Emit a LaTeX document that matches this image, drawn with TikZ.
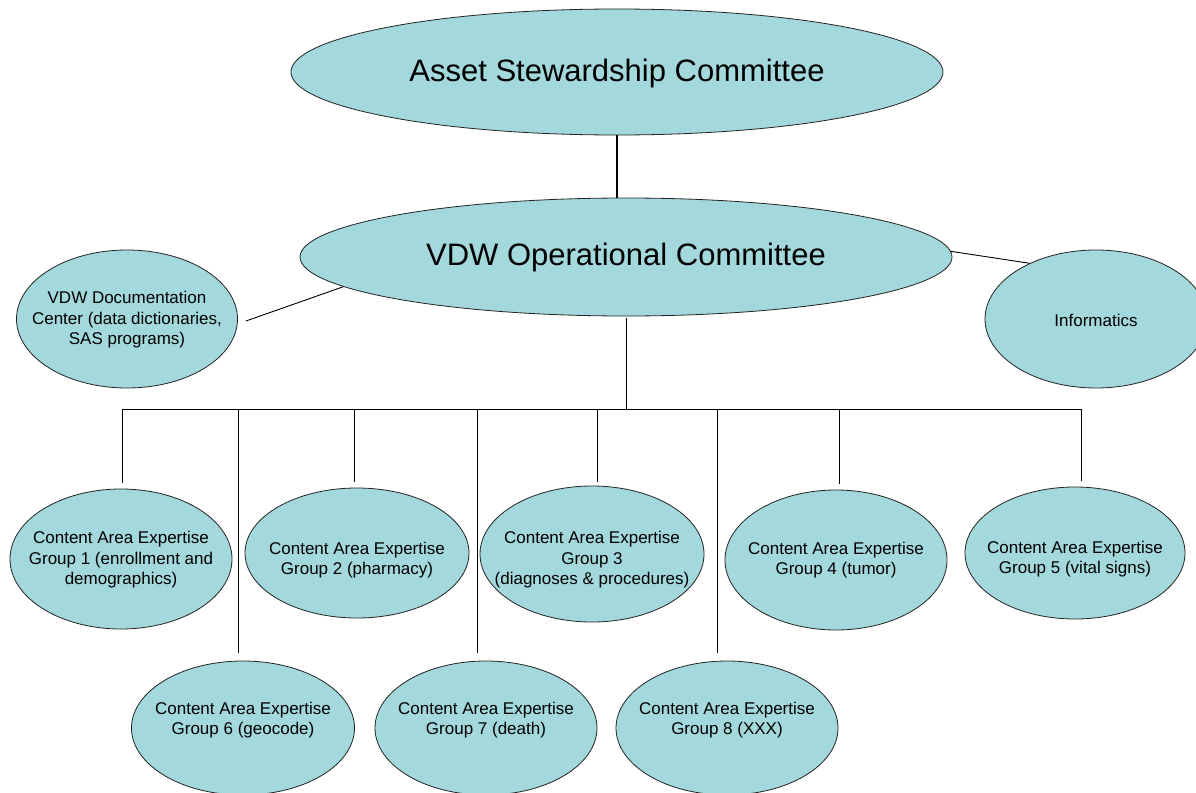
\documentclass[tikz,border=0pt]{standalone}
\usepackage{fontspec}
\setmainfont{Liberation Sans}
\usetikzlibrary{shapes.geometric}
\definecolor{ovalfill}{RGB}{163,216,220}
\definecolor{ovaledge}{RGB}{35,35,35}
\begin{document}
\begin{tikzpicture}[x=1pt,y=-1pt,
  oval/.style={ellipse, draw=ovaledge, line width=0.8pt, fill=ovalfill, inner sep=0pt},
  smalltxt/.style={align=center, inner sep=0pt, font=\fontsize{17}{20.5}\selectfont},
  bigtxt/.style={align=center, inner sep=0pt, font=\fontsize{31}{36}\selectfont},
  link/.style={draw=black, line width=0.9pt},
  mainlink/.style={draw=black, line width=2.8pt}]
\useasboundingbox (0,0) rectangle (1196,792);
% ovals
\node[oval, minimum width=652, minimum height=126] (asc) at (617,72) {};
\node[bigtxt] (asct) at (617,73) {Asset Stewardship Committee};
\node[oval, minimum width=652, minimum height=118] (voc) at (626,257) {};
\node[bigtxt] (voct) at (626,257) {VDW Operational Committee};
\node[oval, minimum width=221, minimum height=138] (doc) at (127,319) {};
\node[smalltxt] (doct) at (127,320) {VDW Documentation\\Center (data dictionaries,\\SAS programs)};
\node[oval, minimum width=222, minimum height=138] (inf) at (1096,319) {};
\node[smalltxt] (inft) at (1096,320) {Informatics};
\node[oval, minimum width=222, minimum height=140] (g1) at (121,559) {};
\node[smalltxt] (g1t) at (121,560) {Content Area Expertise\\Group 1 (enrollment and\\demographics)};
\node[oval, minimum width=224, minimum height=130] (g2) at (357,553) {};
\node[smalltxt] (g2t) at (357,560) {Content Area Expertise\\Group 2 (pharmacy)};
\node[oval, minimum width=224, minimum height=136] (g3) at (592,554) {};
\node[smalltxt] (g3t) at (592,560) {Content Area Expertise\\Group 3\\(diagnoses \& procedures)};
\node[oval, minimum width=222, minimum height=140] (g4) at (836,560) {};
\node[smalltxt] (g4t) at (836,560) {Content Area Expertise\\Group 4 (tumor)};
\node[oval, minimum width=220, minimum height=132] (g5) at (1075,553) {};
\node[smalltxt] (g5t) at (1075,559) {Content Area Expertise\\Group 5 (vital signs)};
\node[oval, minimum width=223, minimum height=134] (g6) at (243,728) {};
\node[smalltxt] (g6t) at (243,720) {Content Area Expertise\\Group 6 (geocode)};
\node[oval, minimum width=222, minimum height=134] (g7) at (486,728) {};
\node[smalltxt] (g7t) at (486,720) {Content Area Expertise\\Group 7 (death)};
\node[oval, minimum width=222, minimum height=134] (g8) at (727,728) {};
\node[smalltxt] (g8t) at (727,720) {Content Area Expertise\\Group 8 (XXX)};
% connectors
\draw[mainlink] (asc.south) -- (asc.south |- voc.north);
\draw[link] ([shift={(8,2)}]doc.east) -- (voc.186.5);
\draw[link] (voc.1) -- (inf.140);
\coordinate (busL) at (122,409);
\coordinate (busR) at (1081,409);
\coordinate (bus) at (627,409);
\draw[link] (busL) -- (busR);
\draw[link] ([yshift=-2pt]voc.south) -- (voc.south |- bus);
\coordinate (d1) at ([shift={(1,-6)}]g1.north);
\coordinate (d2) at ([shift={(-3,-6)}]g2.north);
\coordinate (d3) at ([shift={(5,-4)}]g3.north);
\coordinate (d4) at ([shift={(3,-6)}]g4.north);
\coordinate (d5) at ([shift={(6,-6)}]g5.north);
\coordinate (d6) at ([shift={(-5,-8)}]g6.north);
\coordinate (d7) at ([shift={(-9,-8)}]g7.north);
\coordinate (d8) at ([shift={(-10,-8)}]g8.north);
\foreach \d in {d1,d2,d3,d4,d5,d6,d7,d8}
  \draw[link] (\d) -- (\d |- bus);
\end{tikzpicture}
\end{document}
